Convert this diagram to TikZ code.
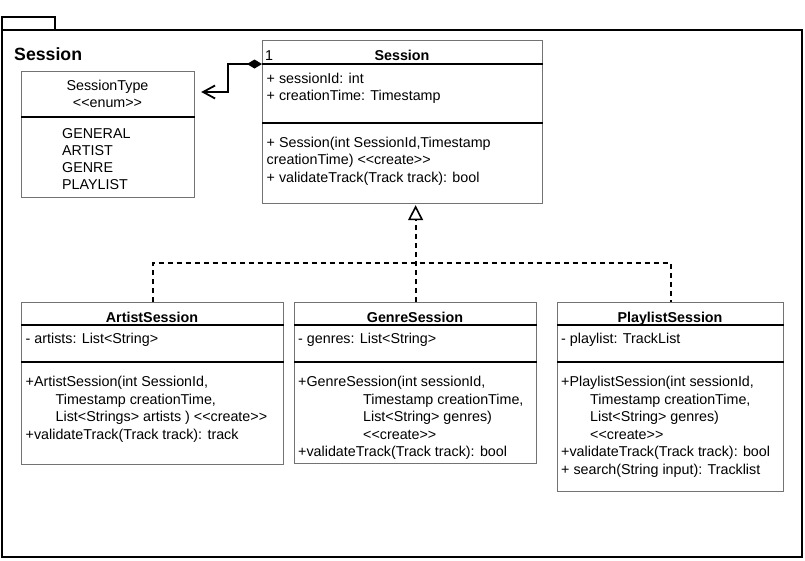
\documentclass[tikz,border=0pt]{standalone}
\usepackage{fontspec}
\setmainfont{Liberation Sans}
\usetikzlibrary{arrows.meta,calc}

\tikzset{
  classbox/.style={draw=black!55, line width=1.2pt, inner sep=0pt, anchor=north west},
  member/.style={anchor=north west, inner sep=0pt, align=left, font=\fontsize{14.3}{17.5}\selectfont},
  ctitle/.style={anchor=base, inner sep=0pt, font=\bfseries\fontsize{14.3}{17.5}\selectfont},
  divider/.style={line width=1.1pt},
  realize/.style={line width=1.8pt, dash pattern=on 5pt off 4pt},
}
\newcommand{\stereo}[1]{<{}<#1>{}>}

\begin{document}
\begin{tikzpicture}[x=1pt,y=-1pt]
    \useasboundingbox (0,0) rectangle (805,560);
    % Package frame
    \draw[line width=1.8pt] (2,17) rectangle (55,30);
    \draw[line width=1.8pt] (2,30) rectangle (802,557);
    \node[anchor=base west, inner sep=0pt, font=\bfseries\fontsize{17.7}{20}\selectfont] (pkg) at (14,60) {Session};
    %
    % SessionType enum
    \node[classbox, minimum width=173pt, minimum height=126pt] (type) at (21,71) {};
    \draw[divider] ([yshift=-46pt]type.north west) -- ([yshift=-46pt]type.north east);
    \node[anchor=base, inner sep=0pt, font=\fontsize{14.3}{17.5}\selectfont] (typename) at (107.5,90.5) {SessionType};
    \node[anchor=base, inner sep=0pt, font=\fontsize{14.3}{17.5}\selectfont] (typestereo) at (107.5,107) {\stereo{enum}};
    \node[member, font=\fontsize{14.3}{16.9}\selectfont] (typevals) at (62,126.3) {\strut GENERAL\\ARTIST\\GENRE\\PLAYLIST};
    %
    % Session
    \node[classbox, minimum width=280pt, minimum height=163pt] (session) at (262,40) {};
    \draw[divider] ([yshift=-24pt]session.north west) -- ([yshift=-24pt]session.north east);
    \draw[divider] ([yshift=-83pt]session.north west) -- ([yshift=-83pt]session.north east);
    \node[anchor=base west, inner sep=0pt, font=\fontsize{14.3}{17.5}\selectfont] (mult) at (265,60) {1};
    \node[ctitle] (sessiontitle) at (402,60) {Session};
    \node[member] (sessionattr) at (266.5,70.75) {\strut + sessionId: int\\+ creationTime: Timestamp};
    \node[member] (sessionops) at (266.5,134.75) {\strut + Session(int SessionId,Timestamp\\creationTime) \stereo{create}\\+ validateTrack(Track track): bool};
    %
    % ArtistSession
    \node[classbox, minimum width=262pt, minimum height=162pt] (artist) at (21,302) {};
    \draw[divider] ([yshift=-23pt]artist.north west) -- ([yshift=-23pt]artist.north east);
    \draw[divider] ([yshift=-60pt]artist.north west) -- ([yshift=-60pt]artist.north east);
    \node[ctitle] (artisttitle) at (152,322) {ArtistSession};
    \node[member] (artistattr) at (25.5,331) {\strut - artists: List<String>};
    \node[member] (artistops) at (25.5,374.25) {\strut +ArtistSession(int SessionId,\\\hspace*{30pt}Timestamp creationTime,\\\hspace*{30pt}List<Strings> artists ) \stereo{create}\\+validateTrack(Track track): track};
    %
    % GenreSession
    \node[classbox, minimum width=242pt, minimum height=161pt] (genre) at (294,302) {};
    \draw[divider] ([yshift=-23pt]genre.north west) -- ([yshift=-23pt]genre.north east);
    \draw[divider] ([yshift=-60pt]genre.north west) -- ([yshift=-60pt]genre.north east);
    \node[ctitle] (genretitle) at (415,322) {GenreSession};
    \node[member] (genreattr) at (298,331) {\strut - genres: List<String>};
    \node[member] (genreops) at (298,374.25) {\strut +GenreSession(int sessionId,\\\hspace*{65pt}Timestamp creationTime,\\\hspace*{65pt}List<String> genres)\\\hspace*{65pt}\stereo{create}\\+validateTrack(Track track): bool};
    %
    % PlaylistSession
    \node[classbox, minimum width=226pt, minimum height=189pt] (playlist) at (557,302) {};
    \draw[divider] ([yshift=-23pt]playlist.north west) -- ([yshift=-23pt]playlist.north east);
    \draw[divider] ([yshift=-60pt]playlist.north west) -- ([yshift=-60pt]playlist.north east);
    \node[ctitle] (playlisttitle) at (670,322) {PlaylistSession};
    \node[member] (playlistattr) at (561,331) {\strut - playlist: TrackList};
    \node[member] (playlistops) at (561,374.25) {\strut +PlaylistSession(int sessionId,\\\hspace*{29pt}Timestamp creationTime,\\\hspace*{29pt}List<String> genres)\\\hspace*{29pt}\stereo{create}\\+validateTrack(Track track): bool\\+ search(String input): Tracklist};
    %
    % Composition to the enum
    \coordinate (compstart) at ([yshift=-24pt]session.north west);
    \coordinate (typein) at ([xshift=6pt,yshift=-21pt]type.north east);
    \draw[line width=1.8pt, {Diamond[length=15pt,width=9pt]}-{Straight Barb[length=12pt,width=13pt]}]
        (compstart) -- ++(-34,0) |- (typein);
    % Realizations
    \draw[realize, -{Triangle[open,fill=white,length=15pt,width=15pt,line width=1.6pt]}] (genre.north) -- ([yshift=-1pt]genre.north |- session.south);
    \draw[realize] (artist.north) -- ++(0,-39) -| (playlist.north);
\end{tikzpicture}
\end{document}
